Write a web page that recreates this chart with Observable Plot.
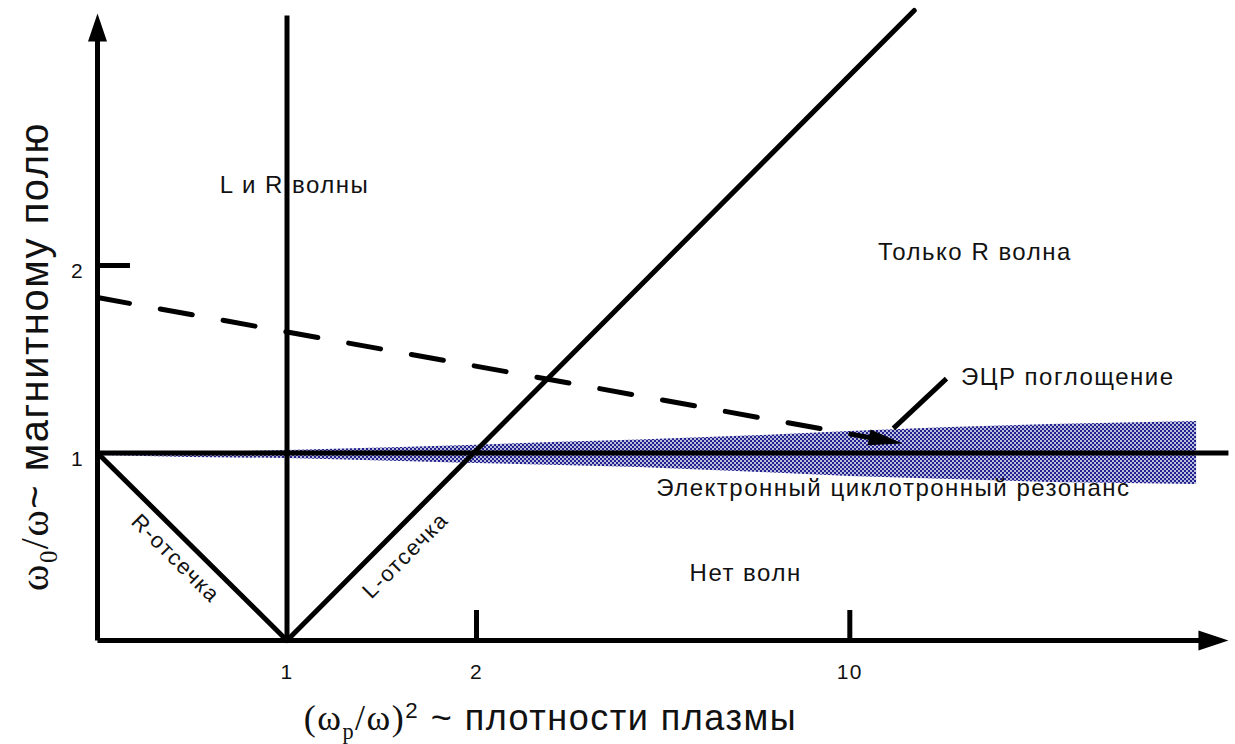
<!DOCTYPE html>
<html><head><meta charset="utf-8">
<script src="https://cdn.jsdelivr.net/npm/d3@7"></script>
<script src="https://cdn.jsdelivr.net/npm/@observablehq/plot@0.6"></script>
<style>
html,body{margin:0;padding:0;background:#fff;}
#chart svg text{letter-spacing:1.5px;}
</style></head><body>
<svg width="0" height="0" style="position:absolute"><defs>
<pattern id="ecr" width="4" height="4" patternUnits="userSpaceOnUse">
<rect width="4" height="4" fill="#22228e"/>
<circle cx="1" cy="1" r="0.95" fill="#ffffff"/>
<circle cx="3" cy="3" r="0.95" fill="#ffffff"/>
</pattern></defs></svg>
<div id="chart"></div>
<script>
// ---- data (diagram units: x ~ (ωp/ω)^2 position, y ~ ω0/ω) ----
const xTickPos = [1, 2, 3.97];
const xTickLabels = ["1", "2", "10"];
const yTickPos = [1, 2];
const yTickLabels = ["1", "2"];

const xAxisEnd = 5.968;
const yAxisEnd = 3.344;
const resonanceLevel = 1;
const resonanceEnd = 5.968;
const criticalDensity = 1;
const criticalTop = 3.333;

const rCutoffX = [0, 1];
const rCutoffY = [1, 0];
const lCutoffX = [1, 4.31];
const lCutoffY = [0, 3.36];

const rayX = [0, 4.12];
const rayY = [1.829, 1.074];
const rayTip = [4.248, 1.051];

const pointerX = [4.20, 4.48];
const pointerY = [1.131, 1.397];

const bandX  = [0,     0.49,  1.0,   1.6,   2.0,   2.44,  2.86,  3.5,   3.97,  4.5,   5.03,  5.8];
const bandHi = [0.992, 1.003, 1.013, 1.029, 1.042, 1.058, 1.069, 1.093, 1.115, 1.136, 1.152, 1.168];
const bandLo = [0.987, 0.976, 0.971, 0.955, 0.944, 0.933, 0.923, 0.896, 0.875, 0.859, 0.843, 0.832];

const labelText = ["L и R волны", "Только R волна", "ЭЦР поглощение", "Электронный циклотронный резонанс", "Нет волн", "R-отсечка", "L-отсечка"];
const labelX = [1.04, 4.63, 5.12, 4.20, 3.42, 0.412, 1.625];
const labelY = [2.427, 2.07, 1.403, 0.81, 0.358, 0.437, 0.453];
const labelRotate = [0, 0, 0, 0, 0, 45, -45];
const labelSize = [24, 24, 24, 24, 24, 22, 22];

const xTitle = "(ωp/ω)2 ~ плотности плазмы";
const yTitle = "ω0/ω~ магнитному полю";

// ---- derived tables ----
const band = bandX.map((x, i) => ({x, hi: bandHi[i], lo: bandLo[i]}));
const xTicks = xTickPos.map((p, i) => ({p, label: xTickLabels[i]}));
const yTicks = yTickPos.map((p, i) => ({p, label: yTickLabels[i]}));
const labels = labelText.map((t, i) => ({t, x: labelX[i], y: labelY[i], r: labelRotate[i], s: labelSize[i]}));
const segments = [
  {x1: 0, y1: 0, x2: xAxisEnd - 0.13, y2: 0},
  {x1: 0, y1: 0, x2: 0, y2: yAxisEnd - 0.13},
  {x1: 0, y1: resonanceLevel, x2: resonanceEnd, y2: resonanceLevel},
  {x1: criticalDensity, y1: 0, x2: criticalDensity, y2: criticalTop},
  {x1: rCutoffX[0], y1: rCutoffY[0], x2: rCutoffX[1], y2: rCutoffY[1]},
  {x1: pointerX[0], y1: pointerY[0], x2: pointerX[1], y2: pointerY[1]}
];
const head = (len, wid) => ({draw(ctx) { ctx.moveTo(0, 0); ctx.lineTo(-wid / 2, len); ctx.lineTo(wid / 2, len); ctx.closePath(); }});
const rayAngle = Math.atan2((rayY[0] - rayY[1]) * 187.5, (rayX[1] - rayX[0]) * 189.5) * 180 / Math.PI;

const SANS = "Liberation Sans, Arial, sans-serif";
const SERIF = "Liberation Serif, DejaVu Serif, serif";

const chart = Plot.plot({
  width: 1235, height: 744, margin: 0,
  x: {domain: [0, 1], range: [97, 286.5], axis: null},
  y: {domain: [0, 1], range: [640, 452.5], axis: null},
  style: {background: "white", overflow: "visible"},
  marks: [
    Plot.areaY(band, {x: "x", y1: "lo", y2: "hi", fill: "url(#ecr)"}),
    Plot.text(labels, {x: "x", y: "y", text: "t", rotate: "r", fontSize: "s", fontFamily: SANS, fill: "#111"}),
    Plot.link(segments, {x1: "x1", y1: "y1", x2: "x2", y2: "y2", stroke: "black", strokeWidth: 5}),
    Plot.line(lCutoffX.map((x, i) => ({x, y: lCutoffY[i]})), {x: "x", y: "y", stroke: "black", strokeWidth: 5, strokeLinecap: "round"}),
    Plot.line(rayX.map((x, i) => ({x, y: rayY[i]})), {x: "x", y: "y", stroke: "black", strokeWidth: 5, strokeDasharray: "32.5 31.3"}),
    Plot.ruleX(xTicks.filter(d => d.p !== criticalDensity), {x: "p", y1: 0, y2: 0.16, stroke: "black", strokeWidth: 5}),
    Plot.ruleY(yTicks.filter(d => d.p !== resonanceLevel), {y: "p", x1: 0, x2: 0.174, stroke: "black", strokeWidth: 5}),
    Plot.dot([{x: 0, y: yAxisEnd}], {x: "x", y: "y", symbol: head(28, 19), fill: "black", stroke: "none"}),
    Plot.dot([{x: xAxisEnd, y: 0}], {x: "x", y: "y", symbol: head(30, 20), rotate: 90, fill: "black", stroke: "none"}),
    Plot.dot([{x: rayTip[0], y: rayTip[1]}], {x: "x", y: "y", symbol: head(34, 16), rotate: 90 + rayAngle, fill: "black", stroke: "none"}),
    Plot.text(xTicks, {x: "p", y: 0, dy: 32, text: "label", fontSize: 21, fontFamily: SANS, fill: "#111"}),
    Plot.text(yTicks, {x: 0, y: "p", dx: -20, dy: 6, text: "label", fontSize: 21, fontFamily: SANS, fill: "#111"}),
    Plot.text([xTitle], {x: 2.39, y: -0.416, text: d => d, fontSize: 36, fontFamily: SANS, fill: "#111"}),
    Plot.text([yTitle], {x: -0.327, y: 1.515, text: d => d, rotate: -90, fontSize: 40, fontFamily: SANS, fill: "#111"})
  ]
});
document.getElementById("chart").append(chart);

// rich formatting (serif math part, sub/superscripts) of the two axis titles
const NS = "http://www.w3.org/2000/svg";
function richText(el, parts, sub, sup) {
  el.textContent = "";
  let shift = 0;
  for (const p of parts) {
    const ts = document.createElementNS(NS, "tspan");
    ts.textContent = p.s;
    if (p.serif) ts.setAttribute("font-family", SERIF);
    const target = p.sub ? sub : p.sup ? sup : 0;
    if (target !== shift) { ts.setAttribute("dy", target - shift); shift = target; }
    if (p.sub || p.sup) ts.setAttribute("font-size", "62%");
    el.append(ts);
  }
}
chart.querySelectorAll("text").forEach(t => {
  if (t.textContent === xTitle) richText(t, [
    {s: "(ω", serif: true}, {s: "p", serif: true, sub: true}, {s: "/ω)", serif: true},
    {s: "2", sup: true}, {s: " ~ плотности плазмы"}], 9, -12);
  else if (t.textContent === yTitle) richText(t, [
    {s: "ω", serif: true}, {s: "0", serif: true, sub: true}, {s: "/ω", serif: true},
    {s: "~ магнитному полю"}], 9, -12);
});
</script></body></html>
